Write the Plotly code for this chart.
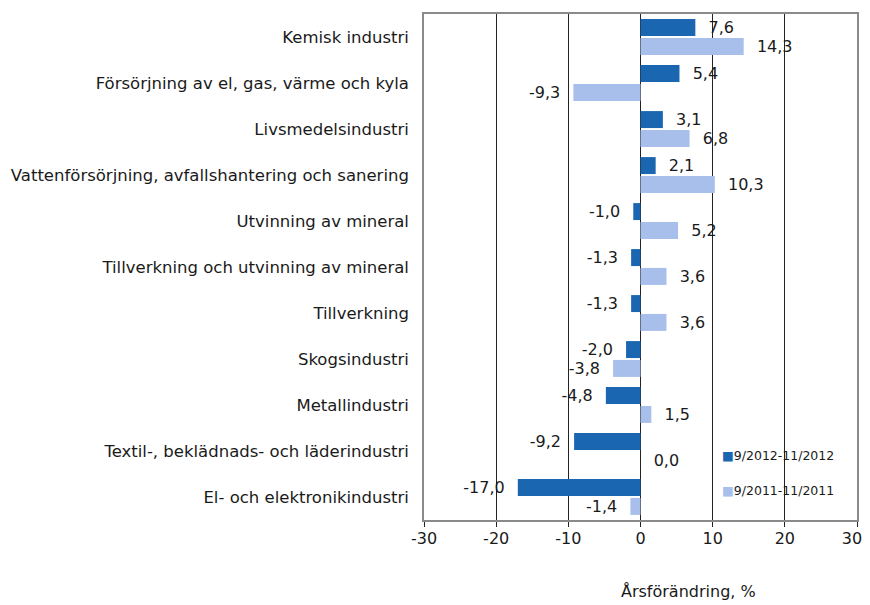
import plotly.graph_objects as go

categories = [
    "Kemisk industri",
    "Försörjning av el, gas, värme och kyla",
    "Livsmedelsindustri",
    "Vattenförsörjning, avfallshantering och sanering",
    "Utvinning av mineral",
    "Tillverkning och utvinning av mineral",
    "Tillverkning",
    "Skogsindustri",
    "Metallindustri",
    "Textil-, beklädnads- och läderindustri",
    "El- och elektronikindustri",
]
series_2012 = [7.6, 5.4, 3.1, 2.1, -1.0, -1.3, -1.3, -2.0, -4.8, -9.2, -17.0]
series_2011 = [14.3, -9.3, 6.8, 10.3, 5.2, 3.6, 3.6, -3.8, 1.5, 0.0, -1.4]
name_2012 = "9/2012-11/2012"
name_2011 = "9/2011-11/2011"
color_2012 = "#1A66B0"
color_2011 = "#A8BFEB"
x_ticks = [-30, -20, -10, 0, 10, 20, 30]
x_title = "Årsförändring, %"

FONT = "DejaVu Sans"
NB = "\u00a0"
TXT = "#1a1a1a"


def fmt(v):
    s = f"{v:.1f}".replace(".", ",")
    return s + NB * 2 if v < 0 else NB * 2 + s


# keep the last tick label inside the visible page edge
tick_text = [str(t) for t in x_ticks]
tick_text[-1] = tick_text[-1] + NB * 2

fig = go.Figure()
for vals, name, col in [(series_2012, name_2012, color_2012),
                        (series_2011, name_2011, color_2011)]:
    fig.add_trace(go.Bar(
        y=categories, x=vals, orientation="h", name=name,
        marker=dict(color=col, line=dict(width=0)),
        text=[fmt(v) for v in vals], textposition="outside",
        textfont=dict(family=FONT, size=16, color=TXT),
        constraintext="none", cliponaxis=False,
    ))

legend_ann = []
for yy, name, col in [(0.128, name_2012, color_2012), (0.059, name_2011, color_2011)]:
    legend_ann.append(dict(
        text=f'<span style="color:{col}">■</span>{name}',
        xref="paper", yref="paper", x=0.684, y=yy,
        xanchor="left", yanchor="middle", showarrow=False,
        font=dict(family=FONT, size=12.5, color=TXT),
    ))

fig.update_layout(
    width=870, height=605,
    margin=dict(l=416, r=21, t=6, b=93),
    paper_bgcolor="white", plot_bgcolor="white",
    barmode="group", bargap=0.18, bargroupgap=0.1,
    font=dict(family=FONT, size=16, color=TXT),
    showlegend=False,
    shapes=[dict(
        type="rect", xref="paper", yref="paper",
        x0=0.666, x1=0.9954, y0=0.0237, y1=0.1637,
        fillcolor="white", line=dict(width=0), layer="between",
    )],
    annotations=[dict(
        text=x_title, xref="paper", yref="paper",
        x=0.611, y=-0.142, xanchor="center", yanchor="middle",
        showarrow=False, font=dict(family=FONT, size=16, color=TXT),
    )] + legend_ann,
)
fig.update_xaxes(
    range=[-30, 30], tickvals=x_ticks, ticktext=tick_text,
    automargin=False,
    showgrid=True, gridcolor="#222222", gridwidth=1.4,
    zeroline=True, zerolinecolor="#222222", zerolinewidth=1.4,
    showline=True, linecolor="#8a8a8a", linewidth=1.5, mirror=True,
    ticks="outside", ticklen=5, tickcolor="#222222",
    ticklabelstandoff=-2,
    tickfont=dict(family=FONT, size=16),
)
fig.update_yaxes(
    autorange="reversed", showgrid=False, automargin=False,
    showline=True, linecolor="#8a8a8a", linewidth=1.5, mirror=True,
    ticks="outside", ticklen=10, tickcolor="rgba(0,0,0,0)",
    tickfont=dict(family=FONT, size=16.5),
)

fig.write_html("out.html")
